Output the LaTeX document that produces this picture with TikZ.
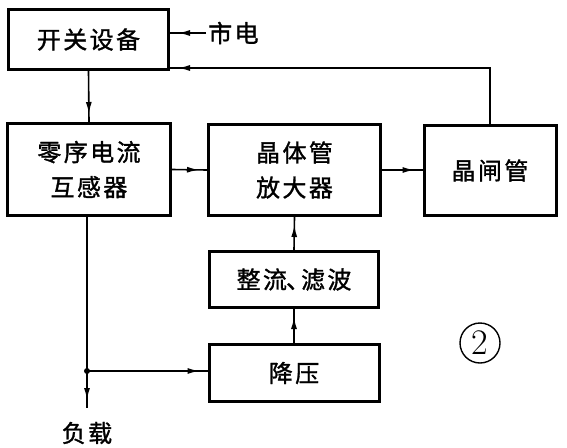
\documentclass[tikz,border=0pt]{standalone}
\usepackage{fontspec}
\newfontfamily\cjk[FakeBold=1.3,LetterSpace=10]{Noto Sans CJK SC}
\usetikzlibrary{arrows.meta,decorations.markings}
\tikzset{
  blk/.style={draw, line width=3pt, inner sep=0pt, align=center,
    font=\cjk\fontsize{24}{35}\selectfont},
  lbl/.style={inner sep=2pt, font=\cjk\fontsize{24}{30}\selectfont},
  conn/.style={line width=1.6pt, postaction={decorate},
    decoration={markings, mark=at position -8pt with {\arrow{Latex[length=12pt,width=6pt]}}}},
  plain/.style={line width=1.6pt}
}
\begin{document}
\begin{tikzpicture}[x=1pt,y=-1pt]
\useasboundingbox (0,0) rectangle (567,447);
\node[blk, minimum width=160pt, minimum height=60pt] (b1) at (88.5,39.5) {开关设备};
\node[blk, minimum width=163pt, minimum height=92pt] (b2) at (89,169.5) {零序电流\\互感器};
\node[blk, minimum width=172pt, minimum height=91pt] (b3) at (294.5,170) {晶体管\\放大器};
\node[blk, minimum width=132pt, minimum height=90pt] (b4) at (490,170.5) {晶闸管};
\node[blk, minimum width=169pt, minimum height=56pt] (b5) at (294,279.5) {整流\kern-1pt 、\kern-9pt 滤波};
\node[blk, minimum width=170pt, minimum height=57pt] (b6) at (294,373) {降压};
\node[lbl, anchor=west] (sd) at (206,33) {市电};
\node[lbl] (fz) at (87,433) {负载};
\node[circle, draw, line width=1.4pt, minimum size=40pt, inner sep=0pt,
  font=\fontsize{36}{36}\selectfont] (n2) at (480,343) {2};
\coordinate (fb) at (490,68);
\coordinate (j) at (87,371);
\coordinate (ld) at (87,408);
% connectors
\draw[conn] (sd.west) -- (b1.east |- sd.west);
\draw[conn] (b4.north) -- (fb) -- (b1.east |- fb);
\draw[conn] (b1.south) -- (b2.north);
\draw[conn] (b2.east) -- (b3.west);
\draw[conn] (b3.east) -- (b4.west |- b3.east);
\draw[conn] (b5.north) -- (b3.south);
\draw[conn] (b6.north) -- (b5.south);
\draw[plain] (b2.south -| j) -- (j);
\draw[conn] (j) -- (ld);
\draw[conn] (j) -- (b6.west |- j);
\fill (j) circle (3pt);
\end{tikzpicture}
\end{document}
